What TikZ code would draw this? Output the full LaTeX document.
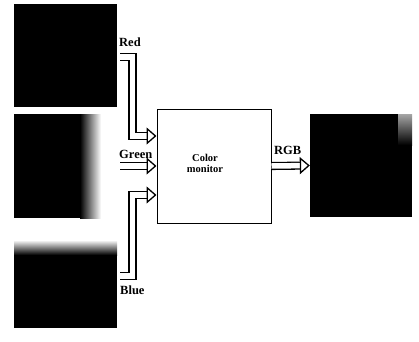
\documentclass[tikz,border=0pt]{standalone}
\usepackage{fontspec}
\setmainfont{Liberation Serif}
\usetikzlibrary{arrows.meta}
\tikzset{
  lab/.style={font=\bfseries\fontsize{12.5}{14}\selectfont,inner sep=0pt,anchor=west},
  montxt/.style={font=\bfseries\fontsize{10.5}{11}\selectfont,align=center,inner sep=0pt},
  monbox/.style={draw,line width=1pt,fill=white,minimum width=114pt,minimum height=114pt,inner sep=0pt},
  scr/.style={fill=black,minimum width=102pt,minimum height=103pt,inner sep=0pt},
  bus/.style={line width=1.3pt,double=white,double distance=5.5pt,line join=miter,
    -{Triangle[open,length=10pt,width=17pt,line width=1.3pt]}},
}
\begin{document}
\begin{tikzpicture}[x=1pt,y=1pt]
  \useasboundingbox (0,0) rectangle (419,341);
  % the three source pictures
  \fill[black] (14,234) rectangle (117,337);
  \fill[black] (14,123) rectangle (80,227);
  \shade[left color=black,right color=white] (80,123) rectangle (101,227);
  \fill[black] (14,13) rectangle (117,86);
  \shade[top color=white,bottom color=black] (14,86) rectangle (117,101);
  % monitor and screen
  \node[monbox] (monitor) at (214,175) {};
  \node[montxt] (montext) at (205,178) {Color\\monitor};
  \node[scr] (screen) at (361,175.5) {};
  \shade[top color=black!35,bottom color=black] (398,196) rectangle (412,227);
  % signal lines
  \coordinate (redsrc) at (120,284);
  \coordinate (greensrc) at (120,175);
  \coordinate (bluesrc) at (120,65);
  \draw[bus] (redsrc) -- ++(12.5,0) |- ([yshift=30pt]monitor.west);
  \draw[bus] (greensrc) -- (monitor.west);
  \draw[bus] (bluesrc) -- ++(12.5,0) |- ([yshift=-29pt]monitor.west);
  \draw[bus] (monitor.east) -- (screen.west);
  \node[lab] (redlab) at (119,299) {Red};
  \node[lab] (greenlab) at (119,187) {Green};
  \node[lab] (bluelab) at (120,51) {Blue};
  \node[lab] (rgblab) at (274,191) {RGB};
\end{tikzpicture}
\end{document}
